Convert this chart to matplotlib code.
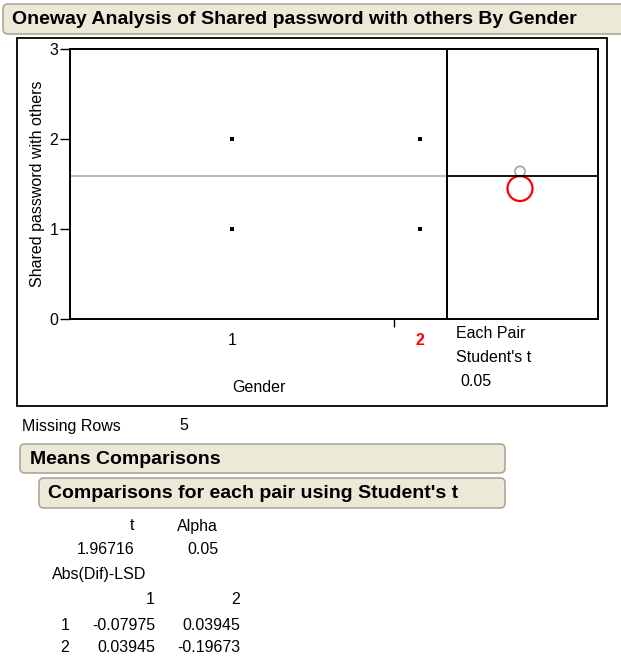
import numpy as np
import matplotlib.pyplot as plt
from matplotlib.patches import Circle, FancyBboxPatch, Rectangle

# data
groups = ["1", "2"]
group_n = [152, 25]                 # estimated from the category widths on the x axis
group_values = [[1, 2], [1, 2]]     # distinct responses shown per group
group_means = [1.64, 1.45]
grand_mean = 1.59
missing_rows = 5
t_value = 1.96716
alpha = 0.05
lsd = [[-0.07975, 0.03945],
       [0.03945, -0.19673]]

title = "Oneway Analysis of Shared password with others By Gender"
y_label = "Shared password with others"
x_label = "Gender"

W, H = 621, 662
plt.rcParams['font.family'] = ['Liberation Sans', 'DejaVu Sans']
fig = plt.figure(figsize=(W / 100, H / 100), dpi=100)

def px_axes(x0, y0, x1, y1):
    return fig.add_axes([x0 / W, 1 - y1 / H, (x1 - x0) / W, (y1 - y0) / H])

# background layer in pixel coordinates for frames, headers and the table
bg = px_axes(0, 0, W, H)
bg.set_xlim(0, W)
bg.set_ylim(H, 0)
bg.axis('off')

def header(x0, y0, x1, y1, text, tx, size):
    bg.add_patch(FancyBboxPatch((x0, y0), x1 - x0, y1 - y0,
                                boxstyle="round,pad=0,rounding_size=5",
                                fc='#ece9d8', ec='#aca899', lw=1.2))
    bg.text(tx, (y0 + y1) / 2 + 1, text, fontsize=size, fontweight='bold',
            ha='left', va='center')

header(3, 4, 640, 34, title, 12, 14)
bg.add_patch(Rectangle((17, 38), 590, 368, fill=False, ec='black', lw=1.3))

# main oneway plot
ax = px_axes(70, 49, 447, 319)
bounds = np.concatenate([[0], np.cumsum(group_n)])
centers = (bounds[:-1] + bounds[1:]) / 2
for c, vals in zip(centers, group_values):
    ax.plot([c] * len(vals), vals, 's', color='black', ms=2.2, mew=0)
ax.axhline(grand_mean, color='#b4b4b4', lw=1.3)
ax.set_xlim(0, bounds[-1])
ax.set_ylim(0, 3)
ax.set_yticks([0, 1, 2, 3])
ax.tick_params(axis='y', length=7, width=1, pad=1.5, labelsize=11.5)
ax.set_xticks(centers)
ax.set_xticklabels(groups)
ax.set_xticks(bounds[1:-1], minor=True)
ax.tick_params(axis='x', which='major', length=0, pad=10, labelsize=11.5)
ax.tick_params(axis='x', which='minor', length=6, width=1)
xl = ax.get_xticklabels()
xl[1].set_color('red')
xl[1].set_fontweight('bold')
for s in ax.spines.values():
    s.set_linewidth(1.4)
ax.set_xlabel(x_label, fontsize=11.5, va='center')
ax.xaxis.set_label_coords(0.5, -0.252)
ax.set_ylabel(y_label, fontsize=11.5, va='center')
ax.yaxis.set_label_coords(-0.0875, 0.5)

# comparison circles panel
cx = px_axes(447, 49, 598, 319)
cx.set_ylim(0, 3)
cx.set_xlim(-73 / 90, 78 / 90)
cx.set_xticks([])
cx.set_yticks([])
for s in cx.spines.values():
    s.set_linewidth(1.4)
cx.axhline(grand_mean, color='black', lw=1.3, zorder=3)
circle_colors = ['#a8a8a8', 'red']
circle_lw = [1.3, 1.6]
for i, m in enumerate(group_means):
    r = abs(lsd[i][i]) / np.sqrt(2)
    cx.add_patch(Circle((0, m), r, fill=False, ec=circle_colors[i], lw=circle_lw[i], zorder=2))

fs = 11.5
bg.text(456, 333, "Each Pair", fontsize=fs, va='center')
bg.text(456, 358, "Student's t", fontsize=fs, va='center')
bg.text(460, 382, f"{alpha:.2f}", fontsize=fs, va='center')

bg.text(22, 426, "Missing Rows", fontsize=fs, va='center')
bg.text(179, 426, str(missing_rows), fontsize=fs, va='center')

header(20, 444, 505, 473, "Means Comparisons", 30, 14)
header(39, 478, 505, 508, "Comparisons for each pair using Student's t", 48, 14)

# t / alpha table
bg.text(134, 526, "t", fontsize=fs, ha='right', va='center')
bg.text(218, 526, "Alpha", fontsize=fs, ha='right', va='center')
bg.text(134, 549, f"{t_value:.5f}", fontsize=fs, ha='right', va='center')
bg.text(218, 549, f"{alpha:.2f}", fontsize=fs, ha='right', va='center')

bg.text(52, 575, "Abs(Dif)-LSD", fontsize=fs, va='center')
col_right = [155, 240]
row_y = [625, 648]
for j, g in enumerate(groups):
    bg.text(col_right[j], 600, g, fontsize=fs, ha='right', va='center')
for i, g in enumerate(groups):
    bg.text(65, row_y[i], g, fontsize=fs, ha='center', va='center')
    for j in range(len(groups)):
        bg.text(col_right[j], row_y[i], f"{lsd[i][j]:.5f}", fontsize=fs, ha='right', va='center')

fig.savefig("out.png", dpi=100)
